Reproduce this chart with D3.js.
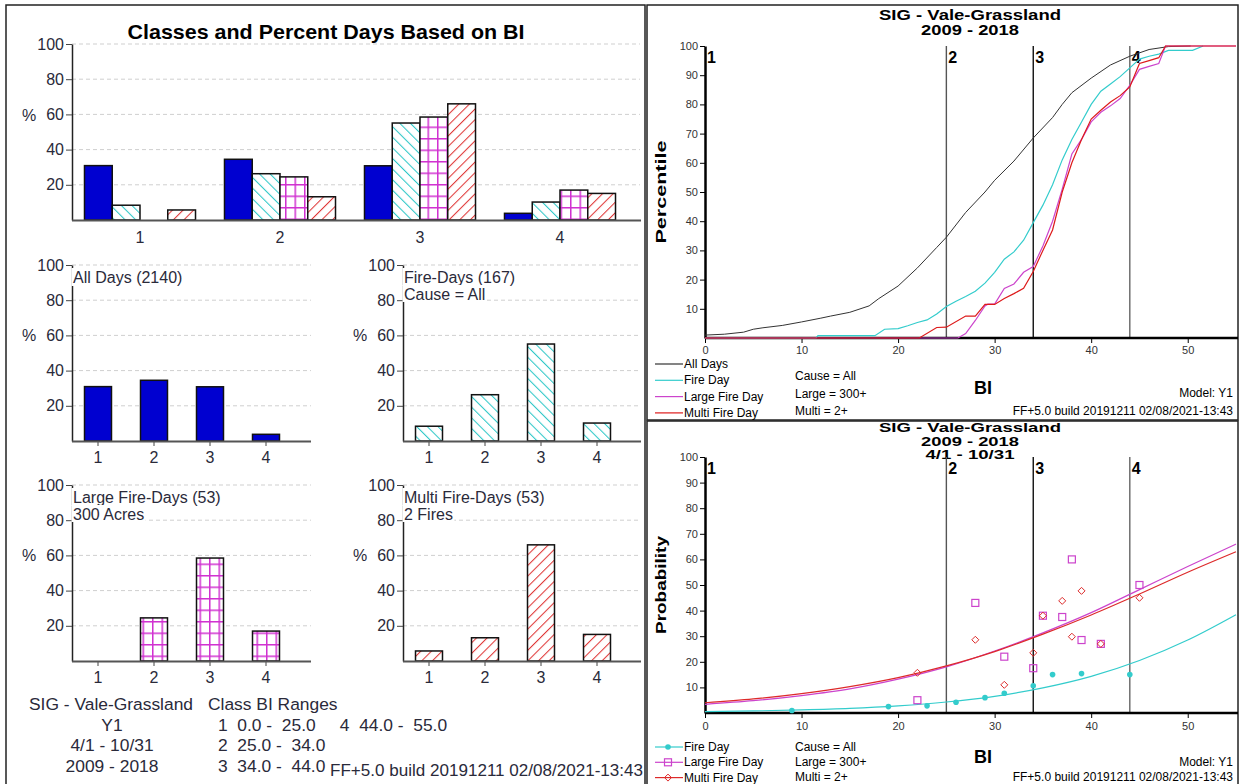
<!DOCTYPE html>
<html><head><meta charset="utf-8">
<script src="https://cdn.jsdelivr.net/npm/d3@7"></script>
<style>
body{margin:0;background:#fff}
svg{display:block}
text{font-family:"Liberation Sans",Arial,sans-serif}
</style>
</head><body>
<svg id="c" width="1241" height="784"></svg>
<script>
// ---------------- DATA ----------------
const classes = ["1","2","3","4"];
const seriesNames = ["All Days","Fire Day","Large Fire Day","Multi Fire Day"];
const allDaysPct   = [30.9, 34.5, 30.8, 3.8];
const fireDaysPct  = [8.4, 26.3, 55.1, 10.2];
const largeDaysPct = [0, 24.5, 58.5, 17.0];
const multiDaysPct = [5.7, 13.2, 66.0, 15.1];
const pctTicks = [20, 40, 60, 80, 100];
const panelLabels = [["All Days (2140)"], ["Fire-Days (167)", "Cause = All"], ["Large Fire-Days (53)", "300 Acres"], ["Multi Fire-Days (53)", "2 Fires"]];
const infoLeft = ["SIG - Vale-Grassland", "Y1", "4/1 - 10/31", "2009 - 2018"];
const infoRanges = ["Class BI Ranges", "1  0.0 -  25.0     4  44.0 -  55.0", "2  25.0 -  34.0", "3  34.0 -  44.0"];
const buildText = "FF+5.0 build 20191211 02/08/2021-13:43";

const classBreaks = [25, 34, 44];
const classBreakLabels = ["2", "3", "4"];
const biTicks = [0, 10, 20, 30, 40, 50];
const pct10Ticks = [10, 20, 30, 40, 50, 60, 70, 80, 90, 100];

// cumulative percentile curves [BI, percentile]
const allDaysCurve = [[0,1.0],[2,1.3],[4,2.0],[5,3.0],[6,3.5],[8,4.3],[10,5.5],[12,6.8],[13,7.5],[15,8.8],[17,11],[18,13.5],[20,17.8],[22,24],[24,31],[25,34.5],[27,43],[29,50],[30,54],[32,60.6],[34,68.5],[36,75.5],[37,80],[38,84],[40,89],[42,93.5],[44,96.5],[46,98.8],[48,99.8],[50.3,100]];
const fireDayCurve = [[0,0],[11.5,0],[11.7,0.8],[17.6,0.8],[18.6,3],[20,3.2],[21,4.2],[22,5.3],[23,6.2],[24,8.2],[25,10.8],[26,12.6],[27,14.2],[28,16],[29,18.8],[30,22.5],[31,27],[32,29.5],[33,33.5],[34,39.5],[35,45.5],[36,52.5],[37,61],[38,68],[39,74],[40,80],[41,84.5],[42,87],[43,89.5],[44,92.5],[45,95.5],[46,96.5],[47,97.2],[48,98.5],[50.5,98.5],[51.6,100]];
const largeDayCurve = [[0,0],[26.2,0],[27,1.5],[28,6],[29,11],[29.3,11.6],[30,11.6],[31,17],[32,18.5],[33,22.5],[34,24.5],[35,31.5],[36,40],[37,51],[38,63],[39,68],[40,74],[41,77.3],[42,79.5],[43,82],[44,86.5],[45,92],[46,93],[47,94],[47.7,100],[55,100]];
const multiDayCurve = [[0,0],[22.2,0],[24,3.6],[25,3.7],[27,7.5],[28,7.5],[29,11.5],[30,11.5],[31,13.5],[32,15.2],[33,17],[34,22.8],[35,30],[36,37],[37,50],[38,60],[39,68],[40,75],[41,78],[42,80.8],[43,83],[44,86],[45,94],[46,95],[47,96],[47.7,100],[55,100]];

// probability fitted curves [BI, probability]
const fireProbFit  = [[0,0.5],[5,0.8],[10,1.2],[15,1.8],[20,2.8],[25,4.3],[30,6.5],[35,9.8],[40,14.3],[45,20.5],[50,28.5],[55,38.4]];
const largeProbFit = [[0,3.4],[5,4.8],[10,6.8],[15,9.4],[20,13.2],[25,18.0],[30,24.2],[35,31.3],[40,39.2],[45,48.2],[50,57.2],[55,66]];
const multiProbFit = [[0,4.0],[5,5.5],[10,7.6],[15,10.3],[20,13.8],[25,18.4],[30,24.0],[35,30.8],[40,38.3],[45,46.5],[50,55.0],[55,63]];
// observed probability points
const fireProbPts  = [[9,1.0],[19,2.5],[23,2.8],[26,4.2],[29,6.0],[31,7.7],[34,10.6],[36,15.0],[39,15.4],[44,15.0]];
const largeProbPts = [[22,5],[28,43],[31,22],[34,17.5],[35,38],[37,37.5],[38,60],[39,28.5],[41,27],[45,50]];
const multiProbPts = [[22,15.7],[28,28.6],[31,11],[34,23.5],[35,38],[37,43.8],[38,29.8],[39,47.7],[41,27],[45,45]];

// ---------------- DRAW ----------------
const svg = d3.select("#c");
svg.append("rect").attr("width",1241).attr("height",784).attr("fill","#fff");
const defs = svg.append("defs");
function hatch(id, color, angle, size){
  const p = defs.append("pattern").attr("id",id).attr("patternUnits","userSpaceOnUse")
    .attr("width",size).attr("height",size).attr("patternTransform",`rotate(${angle})`);
  p.append("rect").attr("width",size).attr("height",size).attr("fill","#fff");
  p.append("line").attr("x1",0.5).attr("y1",0).attr("x2",0.5).attr("y2",size).attr("stroke",color).attr("stroke-width",1.1);
}
hatch("pCyan","#2ec8c8",-45,7.5);
hatch("pRed","#e03838",45,7.5);
const pm = defs.append("pattern").attr("id","pMag").attr("patternUnits","userSpaceOnUse").attr("width",9.5).attr("height",11.5);
pm.append("rect").attr("width",9.5).attr("height",11.5).attr("fill","#fff");
pm.append("line").attr("x1",0).attr("x2",9.5).attr("y1",0.75).attr("y2",0.75).attr("stroke","#d030d0").attr("stroke-width",1.5);
pm.append("line").attr("x1",0.75).attr("x2",0.75).attr("y1",0).attr("y2",11.5).attr("stroke","#d030d0").attr("stroke-width",1.5);

const fills = ["#0000d0","url(#pCyan)","url(#pMag)","url(#pRed)"];
const seriesValues = [allDaysPct, fireDaysPct, largeDaysPct, multiDaysPct];

// panel borders
svg.append("rect").attr("x",6).attr("y",5).attr("width",639).attr("height",800).attr("fill","none").attr("stroke","#222").attr("stroke-width",1.5);
svg.append("rect").attr("x",647).attr("y",5).attr("width",591).attr("height",415).attr("fill","none").attr("stroke","#222").attr("stroke-width",1.5);
svg.append("rect").attr("x",647).attr("y",421).attr("width",591).attr("height",380).attr("fill","none").attr("stroke","#222").attr("stroke-width",1.5);

const LF = 16; // left font
const IF = 17.4; // info font
function styleAxisText(g, size, color){
  g.selectAll("text").attr("font-size",size).attr("fill",color).attr("font-family",'"Liberation Sans",Arial,sans-serif');
}

// ---- top grouped chart ----
{
  const yS = d3.scaleLinear().domain([0,100]).range([220,44]);
  const xG = d3.scaleBand().domain(classes).range([70,630]).paddingInner(0.207).paddingOuter(0.1035);
  const xS = d3.scaleBand().domain(seriesNames).range([0,xG.bandwidth()]);
  svg.append("g").selectAll("line").data(pctTicks).join("line")
    .attr("x1",72).attr("x2",640).attr("y1",d=>yS(d)).attr("y2",d=>yS(d))
    .attr("stroke","#cfcfcf").attr("stroke-dasharray","4,3");
  svg.append("text").attr("x",326).attr("y",39).attr("text-anchor","middle").attr("font-size",21).attr("font-weight","bold")
    .attr("textLength",397).attr("lengthAdjust","spacingAndGlyphs").text("Classes and Percent Days Based on BI");
  const gb = svg.append("g");
  classes.forEach((c,i)=>{
    seriesNames.forEach((s,j)=>{
      const v = seriesValues[j][i];
      if(v<=0) return;
      gb.append("rect").attr("x",xG(c)+xS(s)).attr("y",yS(v)).attr("width",xS.bandwidth()).attr("height",yS(0)-yS(v))
        .attr("fill",fills[j]).attr("stroke","#111").attr("stroke-width",1.5);
    });
  });
  const ya = svg.append("g").attr("transform","translate(72,0)").call(d3.axisLeft(yS).tickValues(pctTicks).tickSize(6).tickSizeOuter(0).tickPadding(2));
  ya.select(".domain").attr("stroke","#222").attr("stroke-width",1.5);
  ya.selectAll(".tick line").attr("stroke","#444");
  styleAxisText(ya, LF, "#2a2a3a");
  const xa = svg.append("g").attr("transform","translate(0,220)").call(d3.axisBottom(xG).tickSize(0).tickPadding(12));
  xa.select(".domain").remove();
  styleAxisText(xa, LF, "#2a2a3a");
  svg.append("line").attr("x1",72).attr("x2",641).attr("y1",220.5).attr("y2",220.5).attr("stroke","#555").attr("stroke-width",2);
  svg.append("text").attr("x",22).attr("y",121).attr("font-size",LF).attr("fill","#2a2a3a").text("%");
}

// ---- small charts ----
const smallPos = [
  {ax:72, r0:70, r1:294, gEnd:311, yT:265, yB:441},
  {ax:403, r0:401, r1:625, gEnd:641, yT:265, yB:441},
  {ax:72, r0:70, r1:294, gEnd:311, yT:485, yB:661},
  {ax:403, r0:401, r1:625, gEnd:641, yT:485, yB:661}
];
smallPos.forEach((p,k)=>{
  const yS = d3.scaleLinear().domain([0,100]).range([p.yB,p.yT]);
  const xS = d3.scaleBand().domain(classes).range([p.r0,p.r1]).paddingInner(0.518).paddingOuter(0.259);
  svg.append("g").selectAll("line").data(pctTicks).join("line")
    .attr("x1",p.ax).attr("x2",p.gEnd).attr("y1",d=>yS(d)).attr("y2",d=>yS(d))
    .attr("stroke","#cfcfcf").attr("stroke-dasharray","4,3");
  const ya = svg.append("g").attr("transform",`translate(${p.ax},0)`).call(d3.axisLeft(yS).tickValues(pctTicks).tickSize(6).tickSizeOuter(0).tickPadding(2));
  ya.select(".domain").attr("stroke","#222").attr("stroke-width",1.5);
  ya.selectAll(".tick line").attr("stroke","#444");
  styleAxisText(ya, LF, "#2a2a3a");
  const vals = seriesValues[k];
  svg.append("g").selectAll("rect").data(classes.filter((c,i)=>vals[i]>0)).join("rect")
    .attr("x",c=>xS(c)).attr("y",c=>yS(vals[classes.indexOf(c)])).attr("width",xS.bandwidth())
    .attr("height",c=>yS(0)-yS(vals[classes.indexOf(c)]))
    .attr("fill",fills[k]).attr("stroke","#111").attr("stroke-width",1.5);
  const xa = svg.append("g").attr("transform",`translate(0,${p.yB})`).call(d3.axisBottom(xS).tickSize(5).tickPadding(6));
  xa.select(".domain").remove();
  xa.selectAll(".tick line").attr("stroke","#444");
  styleAxisText(xa, LF, "#2a2a3a");
  svg.append("line").attr("x1",p.ax).attr("x2",p.gEnd).attr("y1",p.yB+0.5).attr("y2",p.yB+0.5).attr("stroke","#555").attr("stroke-width",2);
  // labels with white background
  panelLabels[k].forEach((t,li)=>{
    const by = p.yT + 18 + li*17;
    const bg = svg.append("rect").attr("fill","#fff");
    const tx = svg.append("text").attr("x",p.ax+1).attr("y",by).attr("font-size",LF).attr("fill","#2a2a3a").text(t);
    const w = tx.node().getComputedTextLength();
    bg.attr("x",p.ax-0.5).attr("y",by-15).attr("width",w+3).attr("height",li==0?18:17);
  });
  svg.append("text").attr("x",p.ax-50).attr("y",p.yT+76).attr("font-size",LF).attr("fill","#2a2a3a").text("%");
});

// ---- info text ----
infoLeft.forEach((t,i)=>{
  svg.append("text").attr("x", i==0?29:112).attr("y",710+i*20.5).attr("text-anchor",i==0?"start":"middle")
    .attr("font-size",IF).attr("fill","#2a2a3a").text(t);
});
infoRanges.forEach((t,i)=>{
  svg.append("text").attr("x", i==0?208:218).attr("y",710+i*20.5).attr("xml:space","preserve").style("white-space","pre")
    .attr("font-size",IF).attr("fill","#2a2a3a").text(t);
});
svg.append("text").attr("x",643).attr("y",776).attr("text-anchor","end").attr("font-size",IF).attr("fill","#2a2a3a")
  .attr("textLength",313).attr("lengthAdjust","spacingAndGlyphs").text(buildText);

// ---- right charts ----
const biX = d3.scaleLinear().domain([0,55]).range([705,1236]);
const RF = 11;
function rightFrame(yS, titleLines, titleYs, titleWs, titleSize, yLabel, yLabelLen, classLabelY, xLblPad){
  titleLines.forEach((t,i)=>{
    svg.append("text").attr("x",970).attr("y",titleYs[i]).attr("text-anchor","middle").attr("font-size",titleSize).attr("font-weight","bold")
      .attr("textLength",titleWs[i]).attr("lengthAdjust","spacingAndGlyphs").text(t);
  });
  // class lines
  const lineCols = ["#555","#111","#666"];
  classBreaks.forEach((b,i)=>{
    svg.append("line").attr("x1",biX(b)).attr("x2",biX(b)).attr("y1",yS(100)).attr("y2",yS(0)).attr("stroke",lineCols[i]).attr("stroke-width",1.4);
    svg.append("text").attr("x",biX(b)+2).attr("y",classLabelY).attr("font-size",16).attr("font-weight","bold").text(classBreakLabels[i]);
  });
  svg.append("text").attr("x",biX(0)+2).attr("y",classLabelY).attr("font-size",16).attr("font-weight","bold").text("1");
  const ya = svg.append("g").attr("transform",`translate(${biX(0)},0)`).call(d3.axisLeft(yS).tickValues(pct10Ticks).tickSize(5).tickSizeOuter(0).tickPadding(2));
  ya.select(".domain").attr("stroke","#000").attr("stroke-width",2.5);
  styleAxisText(ya, RF, "#333");
  const xa = svg.append("g").attr("transform",`translate(0,${yS(0)})`).call(d3.axisBottom(biX).tickValues(biTicks).tickSize(5).tickSizeOuter(0).tickPadding(xLblPad));
  xa.select(".domain").attr("stroke","#000").attr("stroke-width",2.5).attr("d",`M${biX(0)},0H1238`);
  styleAxisText(xa, RF, "#333");
  const cy = (yS(100)+yS(0))/2;
  svg.append("text").attr("transform",`translate(666,${cy}) rotate(-90)`).attr("text-anchor","middle").attr("font-size",14).attr("font-weight","bold")
    .attr("textLength",yLabelLen).attr("lengthAdjust","spacingAndGlyphs").text(yLabel);
}

// top right
{
  const yS = d3.scaleLinear().domain([0,100]).range([338,46]);
  rightFrame(yS, ["SIG - Vale-Grassland","2009 - 2018"], [20,35], [182,98], 15, "Percentile", 103, 63, 3);
  const line = d3.line().x(d=>biX(d[0])).y(d=>yS(d[1]));
  const curves = [[allDaysCurve,"#333",1],[fireDayCurve,"#33cccc",1.2],[largeDayCurve,"#cc44cc",1.2],[multiDayCurve,"#dd1a1a",1.2]];
  curves.forEach(c=>svg.append("path").attr("d",line(c[0])).attr("fill","none").attr("stroke",c[1]).attr("stroke-width",c[2]));
  seriesNames.forEach((n,i)=>{
    const y = 364 + i*16.3;
    svg.append("line").attr("x1",655).attr("x2",683).attr("y1",y).attr("y2",y).attr("stroke",curves[i][1]).attr("stroke-width",1.2);
    svg.append("text").attr("x",684).attr("y",y+4).attr("font-size",12).text(n);
  });
  ["Cause = All","Large = 300+","Multi = 2+"].forEach((t,i)=>svg.append("text").attr("x",795).attr("y",380+i*17.5).attr("font-size",12).text(t));
  svg.append("text").attr("x",983).attr("y",394).attr("text-anchor","middle").attr("font-size",18).attr("font-weight","bold").text("BI");
  svg.append("text").attr("x",1233).attr("y",397).attr("text-anchor","end").attr("font-size",12).text("Model: Y1");
  svg.append("text").attr("x",1233).attr("y",415).attr("text-anchor","end").attr("font-size",12).text(buildText);
}

// bottom right
{
  const yS = d3.scaleLinear().domain([0,100]).range([713,457]);
  rightFrame(yS, ["SIG - Vale-Grassland","2009 - 2018","4/1 - 10/31"], [432,445.5,458.5], [182,98,89], 13, "Probability", 98, 474, 4);
  const line = d3.line().curve(d3.curveMonotoneX).x(d=>biX(d[0])).y(d=>yS(d[1]));
  const cols = ["#33cccc","#cc44cc","#dd2a2a"];
  [fireProbFit, largeProbFit, multiProbFit].forEach((c,i)=>svg.append("path").attr("d",line(c)).attr("fill","none").attr("stroke",cols[i]).attr("stroke-width",1.2));
  const mk = [
    (g,x,y)=>g.append("circle").attr("cx",x).attr("cy",y).attr("r",2.8).attr("fill",cols[0]),
    (g,x,y)=>g.append("rect").attr("x",x-3.5).attr("y",y-3.5).attr("width",7).attr("height",7).attr("fill","none").attr("stroke",cols[1]).attr("stroke-width",1.2),
    (g,x,y)=>g.append("path").attr("d",`M${x},${y-3.5}L${x+3.5},${y}L${x},${y+3.5}L${x-3.5},${y}Z`).attr("fill","none").attr("stroke",cols[2]).attr("stroke-width",1)
  ];
  const g = svg.append("g");
  [fireProbPts, largeProbPts, multiProbPts].forEach((pts,i)=>pts.forEach(d=>mk[i](g,biX(d[0]),yS(d[1]))));
  ["Fire Day","Large Fire Day","Multi Fire Day"].forEach((n,i)=>{
    const y = 747 + i*15.3;
    svg.append("line").attr("x1",655).attr("x2",683).attr("y1",y).attr("y2",y).attr("stroke",cols[i]).attr("stroke-width",1.2);
    mk[i](g,668,y);
    svg.append("text").attr("x",684).attr("y",y+4).attr("font-size",12).text(n);
  });
  ["Cause = All","Large = 300+","Multi = 2+"].forEach((t,i)=>svg.append("text").attr("x",795).attr("y",751+i*15).attr("font-size",12).text(t));
  svg.append("text").attr("x",983).attr("y",763).attr("text-anchor","middle").attr("font-size",18).attr("font-weight","bold").text("BI");
  svg.append("text").attr("x",1233).attr("y",766).attr("text-anchor","end").attr("font-size",12).text("Model: Y1");
  svg.append("text").attr("x",1233).attr("y",781).attr("text-anchor","end").attr("font-size",12).text(buildText);
}
</script>
</body></html>
